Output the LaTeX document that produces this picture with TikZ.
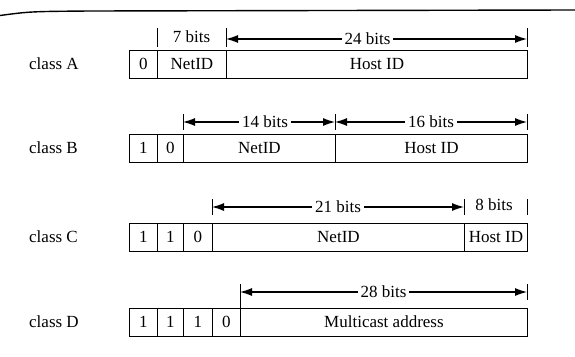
\documentclass[tikz,border=0pt]{standalone}
\usepackage{fontspec}
\setmainfont{Liberation Serif}
\usetikzlibrary{arrows.meta}

\begin{document}
\begin{tikzpicture}[
  x=1pt,y=-1pt,
  font=\fontsize{17}{19}\selectfont,
  >={Latex[length=12pt,width=8pt]},
  cell/.style={draw,line width=0.9pt,minimum height=28pt,inner sep=0pt,anchor=west},
  tick/.style={line width=1pt},
  span/.style={<->,line width=1.1pt},
  bits/.style={fill=white,inner sep=3pt},
  classname/.style={anchor=west,inner sep=0pt}
]
\useasboundingbox (0,0) rectangle (575,356);

% page rule
\draw[line width=1.4pt] (0,15.5) .. controls (30,11.5) .. (90,11) -- (575,10);

% class A
\node[classname] (ca) at (29,64) {class A};
\node[cell,minimum width=28pt]  (a0)   at (129,64) {0};
\node[cell,minimum width=69pt]  (anet) at (157,64) {NetID};
\node[cell,minimum width=301pt] (ahost) at (226,64) {Host ID};
\coordinate (aT0) at (157,39);
\coordinate (aT1) at (226,39);
\coordinate (aT2) at (527,39);
\draw[tick] ([yshift=11pt]aT0) -- ([yshift=-8pt]aT0);
\draw[tick] ([yshift=11pt]aT1) -- ([yshift=-8pt]aT1);
\draw[tick] ([yshift=11pt]aT2) -- ([yshift=-8pt]aT2);
\node (a7) at (191.5,37) {7 bits};
\draw[span] (aT1) -- node[bits,pos=0.47] (a24) {24 bits} (aT2);

% class B
\node[classname] (cb) at (29,148) {class B};
\node[cell,minimum width=28pt]  (b1)   at (129,148) {1};
\node[cell,minimum width=26pt]  (b0)   at (157,148) {0};
\node[cell,minimum width=152pt] (bnet) at (183,148) {NetID};
\node[cell,minimum width=192pt] (bhost) at (335,148) {Host ID};
\coordinate (bT0) at (183,122);
\coordinate (bT1) at (335,122);
\coordinate (bT2) at (527,122);
\draw[tick] ([yshift=8pt]bT0) -- ([yshift=-8pt]bT0);
\draw[tick] ([yshift=8pt]bT1) -- ([yshift=-8pt]bT1);
\draw[tick] ([yshift=8pt]bT2) -- ([yshift=-8pt]bT2);
\draw[span] (bT0) -- node[bits,pos=0.54] (b14) {14 bits} (bT1);
\draw[span] (bT1) -- node[bits] (b16) {16 bits} (bT2);

% class C
\node[classname] (cc) at (29,237) {class C};
\node[cell,minimum width=28pt]  (c1a)  at (129,237) {1};
\node[cell,minimum width=26pt]  (c1b)  at (157,237) {1};
\node[cell,minimum width=29pt]  (c0)   at (183,237) {0};
\node[cell,minimum width=252pt] (cnet) at (212,237) {NetID};
\node[cell,minimum width=63pt]  (chost) at (464,237) {Host ID};
\coordinate (cT0) at (212,207);
\coordinate (cT1) at (464,207);
\coordinate (cT2) at (527,207);
\draw[tick] ([yshift=8pt]cT0) -- ([yshift=-8pt]cT0);
\draw[tick] ([yshift=8pt]cT1) -- ([yshift=-8pt]cT1);
\draw[tick] ([yshift=8pt]cT2) -- ([yshift=-8pt]cT2);
\draw[span] (cT0) -- node[bits] (c21) {21 bits} (cT1);
\node (c8) at (494,205) {8 bits};

% class D
\node[classname] (cd) at (29,322) {class D};
\node[cell,minimum width=28pt]  (d1a)  at (129,322) {1};
\node[cell,minimum width=26pt]  (d1b)  at (157,322) {1};
\node[cell,minimum width=29pt]  (d1c)  at (183,322) {1};
\node[cell,minimum width=28pt]  (d0)   at (212,322) {0};
\node[cell,minimum width=287pt] (dmc)  at (240,322) {Multicast address};
\coordinate (dT0) at (240,292);
\coordinate (dT1) at (527,292);
\draw[tick] ([yshift=8pt]dT0) -- (dmc.north west);
\draw[tick] ([yshift=8pt]dT1) -- ([yshift=-8pt]dT1);
\draw[span] (dT0) -- node[bits] (d28) {28 bits} (dT1);
\end{tikzpicture}
\end{document}
